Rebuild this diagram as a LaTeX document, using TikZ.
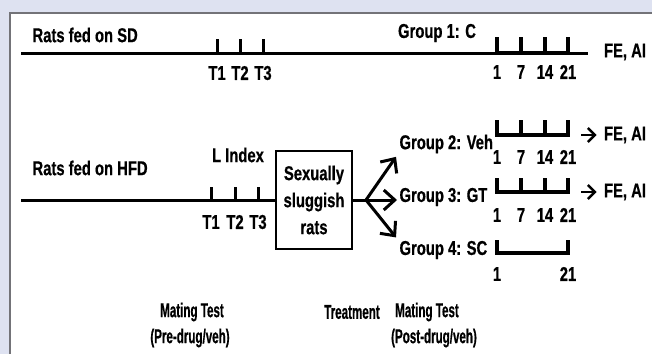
\documentclass[tikz,border=0pt]{standalone}
\usepackage{fontspec}
\setmainfont{Liberation Sans}[FakeStretch=0.74,BoldFeatures={FakeBold=0.6}]
\newfontfamily\phasefont{Liberation Sans}[FakeStretch=0.58,BoldFeatures={FakeBold=0.6}]
\usepackage{tikz}
\usetikzlibrary{arrows.meta}
\definecolor{framebg}{RGB}{222,226,241}
\definecolor{frameln}{RGB}{115,115,120}

\begin{document}
\begin{tikzpicture}[x=1pt,y=-1pt,
		font=\bfseries\fontsize{20}{27}\selectfont,
		timeline/.style={line width=3pt},
		tickln/.style={line width=3pt},
		brkt/.style={line width=3.6pt,line join=miter},
		fork/.style={line width=3pt,-{Straight Barb[length=11pt,width=20pt,line width=3pt]}},
		smallarr/.style={line width=2.4pt,-{Straight Barb[length=7pt,width=14pt,line width=2.4pt]},shorten >=4pt},
		grp/.style={anchor=west},
		phase/.style={font=\phasefont\bfseries\fontsize{20}{27}\selectfont}]
		\useasboundingbox (0,0) rectangle (652,354);
		% frame
		\fill[framebg] (0,0) rectangle (652,354);
		\fill[white] (10,13) rectangle (652,354);
		\draw[frameln,line width=1.5pt] (10,354) -- (10,13) -- (652,13);
		
		% rats fed on SD
		\node[anchor=west] (sd) at (29,35) {Rats fed on SD};
		\coordinate (sdA) at (21,53);
		\coordinate (sdB) at (588,53);
		\draw[timeline] (sdA) -- (sdB);
		\foreach \x/\t in {217/T1,240/T2,263/T3}{
			\draw[tickln] (\x,39) -- (\x,53);
			\node (sd\t) at (\x,73) {\t};
		}
		\node (g1) at (437,33) {Group 1: C};
		\node (fe1) at (625,52) {FE, AI};
		
		% rats fed on HFD
		\node[anchor=west] (hfd) at (29,168) {Rats fed on HFD};
		\node (lindex) at (238,155) {L Index};
		\node[draw,line width=1.5pt,minimum width=76pt,minimum height=98pt,align=center] (box) at (314,200) {Sexually\\sluggish\\rats};
		\coordinate (hfdA) at (21,200);
		\draw[timeline] (hfdA) -- (box.west);
		\foreach \x/\t in {211/T1,235/T2,258/T3}{
			\draw[tickln] (\x,187) -- (\x,200);
			\node (hfd\t) at (\x,222) {\t};
		}
		
		% treatment groups
		\node[grp] (g2) at (396,144) {Group 2: Veh};
		\node[grp] (g3) at (396,197) {Group 3: GT};
		\node[grp] (g4) at (396,250) {Group 4: SC};
		\coordinate (split) at (366,200);
		\draw[timeline] (box.east) -- (split);
		\draw[fork] (split) -- (g2.south west);
		\draw[fork] (split) -- (397,200);
		\draw[fork] (split) -- (g4.north west);
		
		% days of mating test
		\foreach \y/\top/\n in {53/37/1,135/120/2,192/178/3}{
			\draw[brkt] (497,\top) -- (497,\y) -- (568,\y) -- (568,\top);
			\foreach \x in {521,545}
				\draw[brkt] (\x,\top) -- (\x,\y);
		}
		\draw[brkt] (497,240) -- (497,253) -- (568,253) -- (568,240);
		\foreach \y/\n in {72/1,157/2,215/3}{
			\node (d1g\n) at (497,\y) {1};
			\node (d7g\n) at (521,\y) {7};
			\node (d14g\n) at (545,\y) {14};
			\node (d21g\n) at (568,\y) {21};
		}
		\node (d1g4) at (497,274) {1};
		\node (d21g4) at (568,274) {21};
		
		% outcomes
		\node (fe2) at (625,135) {FE, AI};
		\node (fe3) at (625,192) {FE, AI};
		\coordinate (o2) at (581,135);
		\coordinate (o3) at (581,192);
		\draw[smallarr] (o2) -- (fe2.west);
		\draw[smallarr] (o3) -- (fe3.west);
		
		% phases
		\node[phase] (mt1) at (192,312) {Mating Test};
		\node[phase] (pre) at (190,338) {(Pre-drug/veh)};
		\node[phase] (trt) at (352,312) {Treatment};
		\node[phase] (mt2) at (427,312) {Mating Test};
		\node[phase] (post) at (434,338) {(Post-drug/veh)};
	\end{tikzpicture}
\end{document}
